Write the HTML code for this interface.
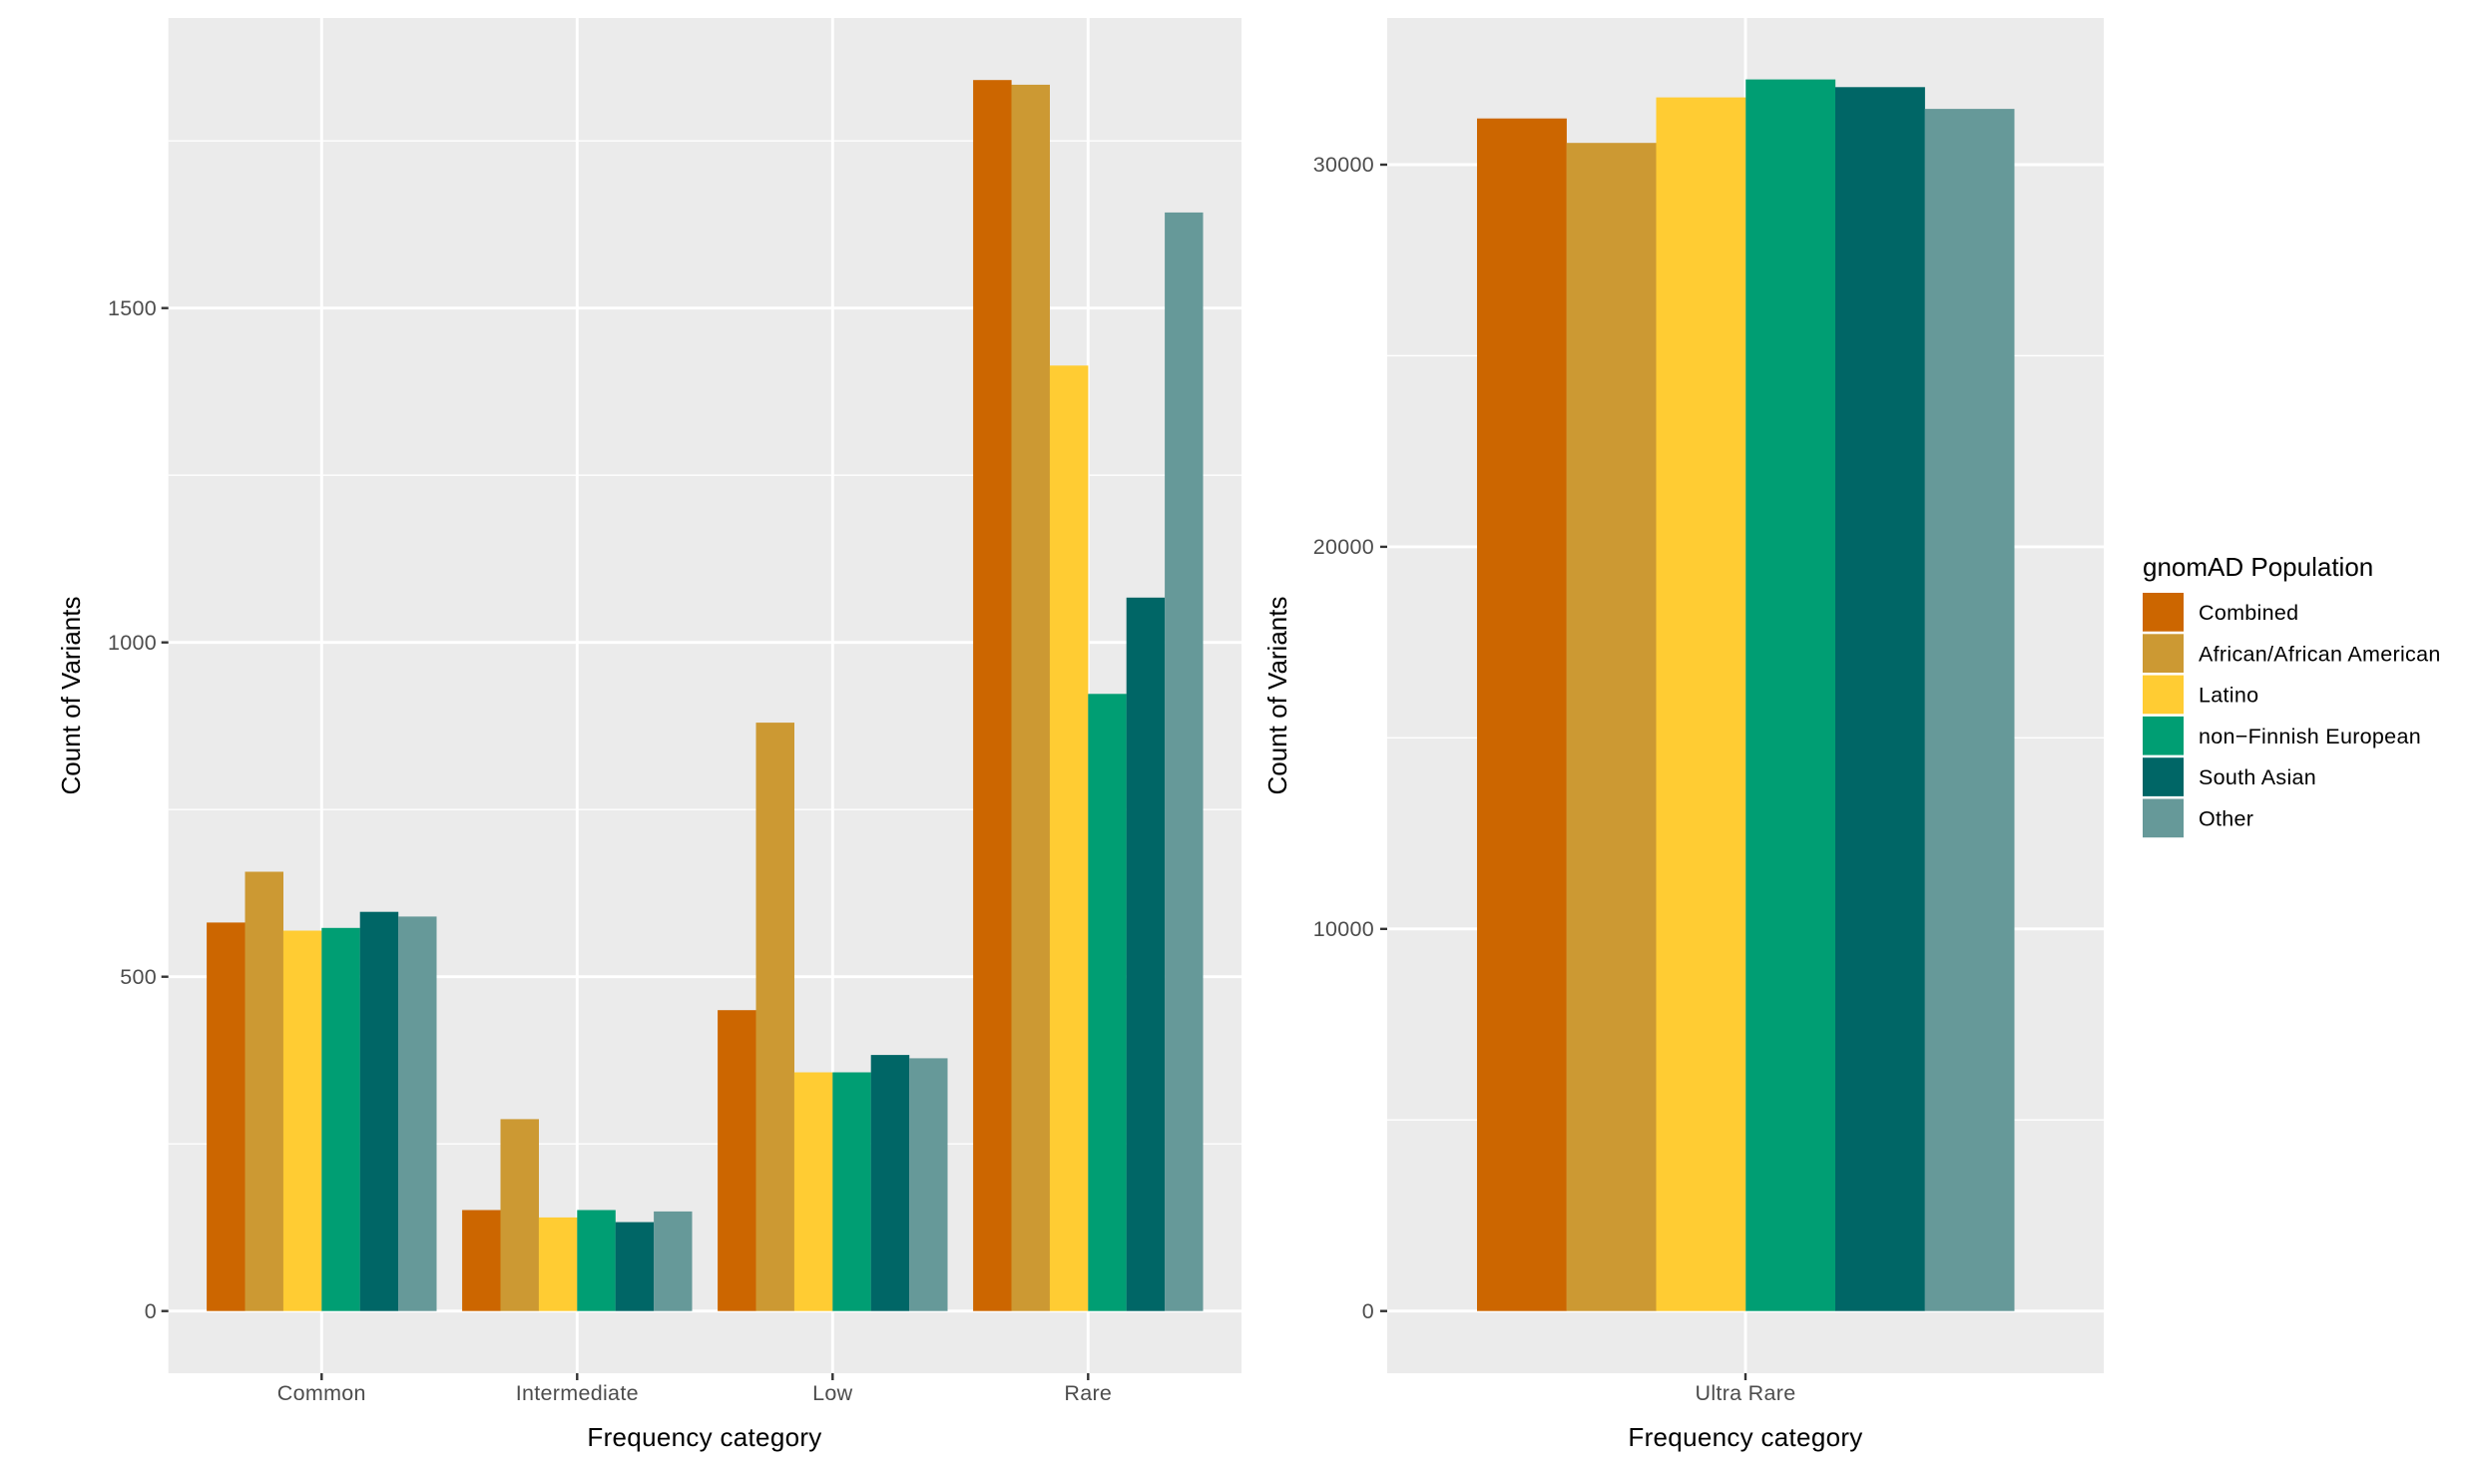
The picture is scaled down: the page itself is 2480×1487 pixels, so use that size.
<!DOCTYPE html>
<html><head><meta charset="utf-8"><style>
html,body{margin:0;padding:0;background:#fff}
svg{display:block}
text{font-family:"Liberation Sans",Arial,sans-serif}
</style></head><body>
<svg width="2480" height="1487" viewBox="0 0 2480 1487" xmlns="http://www.w3.org/2000/svg">
<rect width="2480" height="1487" fill="#fff"/>
<!-- LEFT PANEL -->
<rect x="168.7" y="18" width="1075.3" height="1358" fill="#EBEBEB"/>
<g stroke="#fff" stroke-width="1.4">
<line x1="168.7" x2="1244" y1="1146.2" y2="1146.2"/>
<line x1="168.7" x2="1244" y1="811.2" y2="811.2"/>
<line x1="168.7" x2="1244" y1="476.2" y2="476.2"/>
<line x1="168.7" x2="1244" y1="141.2" y2="141.2"/>
</g>
<g stroke="#fff" stroke-width="2.9">
<line x1="168.7" x2="1244" y1="1313.7" y2="1313.7"/>
<line x1="168.7" x2="1244" y1="978.7" y2="978.7"/>
<line x1="168.7" x2="1244" y1="643.7" y2="643.7"/>
<line x1="168.7" x2="1244" y1="308.7" y2="308.7"/>
<line x1="322.3" x2="322.3" y1="18" y2="1376"/>
<line x1="578.3" x2="578.3" y1="18" y2="1376"/>
<line x1="834.3" x2="834.3" y1="18" y2="1376"/>
<line x1="1090.3" x2="1090.3" y1="18" y2="1376"/>
</g>
<!-- Common -->
<rect x="207.1" y="924.4" width="38.5" height="389.3" fill="#CC6600"/>
<rect x="245.5" y="873.5" width="38.5" height="440.2" fill="#CC9933"/>
<rect x="283.9" y="932.5" width="38.5" height="381.2" fill="#FFCC33"/>
<rect x="322.3" y="929.8" width="38.5" height="383.9" fill="#009E73"/>
<rect x="360.7" y="913.7" width="38.5" height="400" fill="#006666"/>
<rect x="399.1" y="918.4" width="38.4" height="395.3" fill="#669999"/>
<!-- Intermediate -->
<rect x="463.1" y="1212.5" width="38.5" height="101.2" fill="#CC6600"/>
<rect x="501.5" y="1121.4" width="38.5" height="192.3" fill="#CC9933"/>
<rect x="539.9" y="1219.9" width="38.5" height="93.8" fill="#FFCC33"/>
<rect x="578.3" y="1212.5" width="38.5" height="101.2" fill="#009E73"/>
<rect x="616.7" y="1224.6" width="38.5" height="89.1" fill="#006666"/>
<rect x="655.1" y="1213.9" width="38.4" height="99.8" fill="#669999"/>
<!-- Low -->
<rect x="719.1" y="1012.2" width="38.5" height="301.5" fill="#CC6600"/>
<rect x="757.5" y="724.1" width="38.5" height="589.6" fill="#CC9933"/>
<rect x="795.9" y="1074.5" width="38.5" height="239.2" fill="#FFCC33"/>
<rect x="834.3" y="1074.5" width="38.5" height="239.2" fill="#009E73"/>
<rect x="872.7" y="1057.1" width="38.5" height="256.6" fill="#006666"/>
<rect x="911.1" y="1060.4" width="38.4" height="253.3" fill="#669999"/>
<!-- Rare -->
<rect x="975.1" y="80.2" width="38.5" height="1233.5" fill="#CC6600"/>
<rect x="1013.5" y="84.9" width="38.5" height="1228.8" fill="#CC9933"/>
<rect x="1051.9" y="366.3" width="38.5" height="947.4" fill="#FFCC33"/>
<rect x="1090.3" y="695.3" width="38.5" height="618.4" fill="#009E73"/>
<rect x="1128.7" y="598.8" width="38.5" height="714.9" fill="#006666"/>
<rect x="1167.1" y="212.9" width="38.4" height="1100.8" fill="#669999"/>
<!-- left axes ticks -->
<g stroke="#333" stroke-width="2.4">
<line x1="161.7" x2="168.7" y1="1313.7" y2="1313.7"/>
<line x1="161.7" x2="168.7" y1="978.7" y2="978.7"/>
<line x1="161.7" x2="168.7" y1="643.7" y2="643.7"/>
<line x1="161.7" x2="168.7" y1="308.7" y2="308.7"/>
<line x1="322.3" x2="322.3" y1="1376" y2="1383"/>
<line x1="578.3" x2="578.3" y1="1376" y2="1383"/>
<line x1="834.3" x2="834.3" y1="1376" y2="1383"/>
<line x1="1090.3" x2="1090.3" y1="1376" y2="1383"/>
</g>
<g fill="#4D4D4D" font-size="21.5" text-anchor="end" letter-spacing="0.3">
<text x="157" y="1321">0</text>
<text x="157" y="986">500</text>
<text x="157" y="651">1000</text>
<text x="157" y="316">1500</text>
</g>
<g fill="#4D4D4D" font-size="21.5" text-anchor="middle" letter-spacing="0.3">
<text x="322.3" y="1403">Common</text>
<text x="578.3" y="1403">Intermediate</text>
<text x="834.3" y="1403">Low</text>
<text x="1090.3" y="1403">Rare</text>
</g>
<text x="706" y="1449" font-size="26" text-anchor="middle" fill="#000" letter-spacing="0.3">Frequency category</text>
<text transform="translate(80,697) rotate(-90)" font-size="26" text-anchor="middle" fill="#000">Count of Variants</text>

<!-- RIGHT PANEL -->
<rect x="1390" y="18" width="718" height="1358" fill="#EBEBEB"/>
<g stroke="#fff" stroke-width="1.4">
<line x1="1390" x2="2108" y1="1122.2" y2="1122.2"/>
<line x1="1390" x2="2108" y1="739.3" y2="739.3"/>
<line x1="1390" x2="2108" y1="356.4" y2="356.4"/>
</g>
<g stroke="#fff" stroke-width="2.9">
<line x1="1390" x2="2108" y1="1313.7" y2="1313.7"/>
<line x1="1390" x2="2108" y1="930.8" y2="930.8"/>
<line x1="1390" x2="2108" y1="547.9" y2="547.9"/>
<line x1="1390" x2="2108" y1="165" y2="165"/>
<line x1="1749" x2="1749" y1="18" y2="1376"/>
</g>
<rect x="1480" y="118.7" width="89.9" height="1195" fill="#CC6600"/>
<rect x="1569.75" y="143.2" width="89.9" height="1170.5" fill="#CC9933"/>
<rect x="1659.5" y="97.6" width="89.9" height="1216.1" fill="#FFCC33"/>
<rect x="1749.25" y="79.6" width="89.9" height="1234.1" fill="#009E73"/>
<rect x="1839" y="87.3" width="89.9" height="1226.4" fill="#006666"/>
<rect x="1928.75" y="109.1" width="89.75" height="1204.6" fill="#669999"/>
<g stroke="#333" stroke-width="2.4">
<line x1="1383" x2="1390" y1="1313.7" y2="1313.7"/>
<line x1="1383" x2="1390" y1="930.8" y2="930.8"/>
<line x1="1383" x2="1390" y1="547.9" y2="547.9"/>
<line x1="1383" x2="1390" y1="165" y2="165"/>
<line x1="1749" x2="1749" y1="1376" y2="1383"/>
</g>
<g fill="#4D4D4D" font-size="21.5" text-anchor="end" letter-spacing="0.3">
<text x="1377" y="1321">0</text>
<text x="1377" y="938">10000</text>
<text x="1377" y="555">20000</text>
<text x="1377" y="172">30000</text>
</g>
<text x="1749" y="1403" fill="#4D4D4D" font-size="21.5" text-anchor="middle" letter-spacing="0.3">Ultra Rare</text>
<text x="1749" y="1449" font-size="26" text-anchor="middle" fill="#000" letter-spacing="0.3">Frequency category</text>
<text transform="translate(1289,697) rotate(-90)" font-size="26" text-anchor="middle" fill="#000">Count of Variants</text>

<!-- LEGEND -->
<text x="2147" y="577" font-size="26" fill="#000">gnomAD Population</text>
<rect x="2147" y="594" width="41" height="38.7" fill="#CC6600"/>
<rect x="2147" y="635.3" width="41" height="38.7" fill="#CC9933"/>
<rect x="2147" y="676.6" width="41" height="38.7" fill="#FFCC33"/>
<rect x="2147" y="717.9" width="41" height="38.7" fill="#009E73"/>
<rect x="2147" y="759.2" width="41" height="38.7" fill="#006666"/>
<rect x="2147" y="800.5" width="41" height="38.7" fill="#669999"/>
<g font-size="21.5" fill="#000" letter-spacing="0.3">
<text x="2203" y="621">Combined</text>
<text x="2203" y="662.3">African/African American</text>
<text x="2203" y="703.6">Latino</text>
<text x="2203" y="744.9">non−Finnish European</text>
<text x="2203" y="786.2">South Asian</text>
<text x="2203" y="827.5">Other</text>
</g>
</svg>
</body></html>
